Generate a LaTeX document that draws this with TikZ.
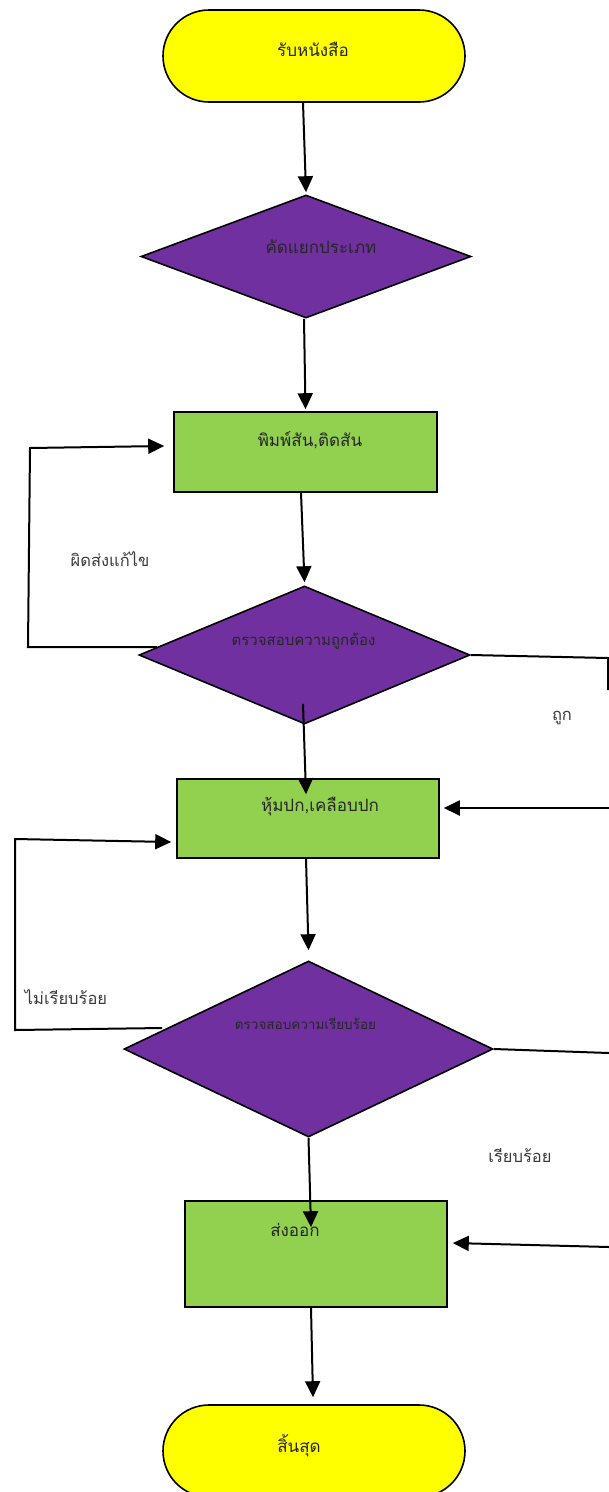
\documentclass[tikz,border=0pt]{standalone}
\usepackage{fontspec}
\newfontfamily\thai[Script=Thai]{Loma}
\usetikzlibrary{shapes.geometric,arrows.meta,calc}
\definecolor{termyellow}{HTML}{FFFF00}
\definecolor{decpurple}{HTML}{7030A0}
\definecolor{procgreen}{HTML}{92D050}
\definecolor{notegrey}{HTML}{3A3A3A}
\tikzset{
  base/.style={draw=black, line width=1.6pt, inner sep=0pt},
  term/.style={base, fill=termyellow, rectangle, rounded corners=46pt,
    minimum width=302pt, minimum height=92pt},
  decide/.style={base, fill=decpurple, diamond},
  proc/.style={base, fill=procgreen, rectangle},
  big/.style={font=\thai\fontsize{17}{20}\selectfont, text=black!85},
  mid/.style={font=\thai\fontsize{15}{18}\selectfont, text=black!85},
  small/.style={font=\thai\fontsize{13.5}{16}\selectfont, text=black!85},
  note/.style={font=\thai\fontsize{16.5}{20}\selectfont, text=notegrey},
  flow/.style={line width=2pt, -{Triangle[length=16pt,width=15pt]}},
  wire/.style={line width=2pt},
}
\begin{document}
\begin{tikzpicture}[x=1pt,y=-1pt]
\useasboundingbox (0,0) rectangle (609,1492);

% shapes of the flow, top to bottom
\node[term, label={[big,xshift=-1pt,yshift=7pt]center:รับหนังสือ}] (start) at (314,56) {};
\node[decide, minimum width=330pt, minimum height=123pt,
  label={[big,xshift=15pt,yshift=9.5pt]center:คัดแยกประเภท}] (sort) at (306,256.5) {};
\node[proc, minimum width=263pt, minimum height=80pt,
  label={[big,xshift=4.5pt,yshift=12pt]center:พิมพ์สัน,ติดสัน}] (print) at (305.5,452) {};
\node[decide, minimum width=331pt, minimum height=138pt,
  label={[mid,xshift=-1pt,yshift=14pt]center:ตรวจสอบความถูกต้อง}] (check) at (304.5,655) {};
\node[proc, minimum width=262pt, minimum height=79pt,
  label={[big,xshift=12pt,yshift=11.5pt]center:หุ้มปก,เคลือบปก}] (cover) at (308,818.5) {};
\node[decide, minimum width=369pt, minimum height=176pt,
  label={[small,xshift=-3pt,yshift=25pt]center:ตรวจสอบความเรียบร้อย}] (neat) at (308.5,1049) {};
\node[proc, minimum width=262pt, minimum height=106pt,
  label={[big,xshift=-21pt,yshift=24pt]center:ส่งออก}] (ship) at (316,1254) {};
\node[term, label={[big,xshift=-15pt,yshift=5pt]center:สิ้นสุด}] (stop) at (314,1451) {};

% loop corners and free ends at the margins
\coordinate (fixB) at (28,647);
\coordinate (fixT) at (30,448);
\coordinate (okC) at (608,658);
\coordinate (okS) at (608,690);
\coordinate (okIn) at (609,808);
\coordinate (redoB) at (15,1030);
\coordinate (redoT) at (15,839);
\coordinate (doneR) at (609,1053);
\coordinate (doneIn) at (609,1247);

% main line
\draw[flow] ([xshift=-11pt]start.south) -- ([yshift=2pt]sort.north);
\draw[flow] ([xshift=-2pt]sort.south) -- ([yshift=2pt]print.north);
\draw[flow] ([xshift=-4.5pt]print.south) -- ([yshift=3pt]check.north);
\draw[flow] ([xshift=-1.5pt,yshift=21pt]check.south) -- ([xshift=-2pt,yshift=-16pt]cover.north);
\draw[flow] ([xshift=-2pt]cover.south) -- ([yshift=10pt]neat.north);
\draw[flow] (neat.south) -- ([xshift=-5pt,yshift=-27pt]ship.north);
\draw[flow] ([xshift=-5pt]ship.south) -- ([xshift=-1pt,yshift=7pt]stop.north);

% first check: wrong goes back, right goes on
\draw[flow] ([xshift=19pt,yshift=8pt]check.west) -- (fixB) -- (fixT)
  -- ([xshift=-9pt,yshift=6pt]print.west);
\node[note] (wrongLbl) at (110,559) {ผิดส่งแก้ไข};
\draw[wire] (check.east) -- (okC) -- (okS);
\node[note] (rightLbl) at (562,718) {ถูก};
\draw[flow] (okIn) -- ([xshift=4pt,yshift=10.5pt]cover.east);

% second check: untidy goes back, tidy goes on
\draw[flow] ([xshift=39pt,yshift=21pt]neat.west) -- (redoB) -- (redoT)
  -- ([xshift=-5pt,yshift=-23.5pt]cover.west);
\node[note] (untidyLbl) at (66,997) {ไม่เรียบร้อย};
\draw[wire] (neat.east) -- (doneR);
\node[note] (tidyLbl) at (520,1156) {เรียบร้อย};
\draw[flow] (doneIn) -- ([xshift=5pt,yshift=11pt]ship.east);
\end{tikzpicture}
\end{document}
